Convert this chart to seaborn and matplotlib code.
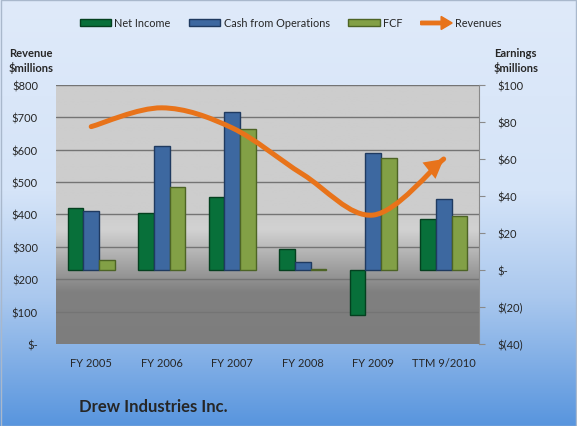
import numpy as np
import pandas as pd
import matplotlib
matplotlib.use("Agg")
import matplotlib.pyplot as plt
import matplotlib.patches as mpatches
from matplotlib.path import Path
from matplotlib.legend_handler import HandlerPatch
import seaborn as sns

sns.set_style("white")
plt.rcParams["font.family"] = ["Lato", "DejaVu Sans"]

# values
years = ["FY 2005", "FY 2006", "FY 2007", "FY 2008", "FY 2009", "TTM 9/2010"]
net_income = [33.5, 30.8, 39.6, 11.2, -24.3, 27.6]
cash_ops = [31.7, 66.9, 85.2, 4.2, 63.0, 38.5]
fcf = [5.6, 44.7, 76.4, 0.3, 60.3, 29.2]
revenues = [671, 729, 667, 524, 398, 571]

series = ["Net Income", "Cash from Operations", "FCF"]
bar_colors = ["#08703a", "#3d68a0", "#82a046"]
edge_colors = ["#04401f", "#1f3a60", "#4d6425"]
orange = "#e8731a"

df = pd.DataFrame({
    "year": years * 3,
    "series": [series[0]] * 6 + [series[1]] * 6 + [series[2]] * 6,
    "value": net_income + cash_ops + fcf,
})

fig = plt.figure(figsize=(5.77, 4.27), dpi=100)

# blue background gradient
bg = fig.add_axes([0, 0, 1, 1])
bg.set_zorder(-5)
stops = [0.0, 0.45, 0.7, 1.0]
cols = np.array([[223, 234, 250], [213, 228, 248], [170, 200, 238], [88, 149, 222]]) / 255
t = np.linspace(0, 1, 300)
grad = np.stack([np.interp(t, stops, cols[:, k]) for k in range(3)], axis=-1)[:, None, :]
bg.imshow(grad, aspect="auto", extent=[0, 1, 0, 1])
bg.axis("off")
fig.patches.append(mpatches.Rectangle((0.001, 0.001), 0.997, 0.997, transform=fig.transFigure,
                                      fill=False, edgecolor="#a9b8cc", lw=1))

ax = fig.add_axes([0.097, 0.192, 0.733, 0.607])
ax.set_xlim(-0.5, 5.5)
ax.set_ylim(0, 800)

# gray plot area gradient
pstops = [0.0, 0.5, 0.56, 0.8, 1.0]
pvals = np.array([205, 205, 210, 128, 125]) / 255
g = np.interp(t, pstops, pvals)
pgrad = np.stack([g, g, g], axis=-1)[:, None, :]
ax.imshow(pgrad, aspect="auto", extent=[-0.5, 5.5, 0, 800], zorder=0)

for yv in range(100, 900, 100):
    ax.axhline(yv, color="#747474", lw=1.0, zorder=1)

ax.set_yticks(range(0, 900, 100))
ax.set_yticklabels(["$-"] + ["$%d" % v for v in range(100, 900, 100)])
ax.tick_params(axis="y", length=0, pad=13, labelsize=8)
ax.tick_params(axis="x", length=0, pad=9, labelsize=8)
for s in ax.spines.values():
    s.set_visible(False)

ax2 = ax.twinx()
sns.barplot(data=df, x="year", y="value", hue="series", palette=bar_colors,
            width=0.67, ax=ax2, legend=False, saturation=1)
for i, cont in enumerate(ax2.containers):
    for bar in cont:
        bar.set_edgecolor(edge_colors[i])
        bar.set_linewidth(1)
        bar.set_zorder(3)
ax2.set_xlim(-0.5, 5.5)
ax2.set_ylim(-40, 100)
ax2.set_yticks(range(-40, 120, 20))
ax2.set_yticklabels(["$(40)", "$(20)", "$-", "$20", "$40", "$60", "$80", "$100"])
ax2.tick_params(axis="y", length=4, color="#8a8a8a", pad=9, labelsize=8)
ax2.set_xlabel("")
ax2.set_ylabel("")
ax.set_xticks(range(6))
ax.set_xticklabels(years)
for s in ["top", "left", "bottom"]:
    ax2.spines[s].set_visible(False)
ax2.spines["right"].set_color("#8a8a8a")

# smoothed revenue line (bezier through the revenue points)
pts = np.column_stack([np.arange(len(revenues)), revenues]).astype(float)
ext = np.vstack([pts[0], pts, pts[-1]])
verts = [tuple(pts[0])]
codes = [Path.MOVETO]
for i in range(len(pts) - 1):
    p0, p1, p2, p3 = ext[i], ext[i + 1], ext[i + 2], ext[i + 3]
    c1 = p1 + (p2 - p0) / 6
    c2 = p2 - (p3 - p1) / 6
    verts += [tuple(c1), tuple(c2), tuple(p2)]
    codes += [Path.CURVE4] * 3
ax2.add_patch(mpatches.PathPatch(Path(verts, codes), transform=ax.transData, fill=False,
                                 edgecolor=orange, lw=3.6, capstyle="round", zorder=5))
ax2.annotate("", xy=verts[-1], xytext=verts[-2], xycoords=ax.transData, textcoords=ax.transData,
             arrowprops=dict(arrowstyle="-|>,head_length=0.9,head_width=0.5", color=orange,
                             lw=0, shrinkA=0, shrinkB=0, mutation_scale=15), zorder=6)

# axis captions and title
fig.text(0.054, 0.857, "Revenue\n$millions", ha="center", va="center", fontsize=8,
         fontweight="bold", linespacing=1.35)
fig.text(0.894, 0.857, "Earnings\n$millions", ha="center", va="center", fontsize=8,
         fontweight="bold", linespacing=1.35)
fig.text(0.137, 0.046, "Drew Industries Inc.", ha="left", va="center", fontsize=12,
         fontweight="bold")

# legend
handles = [mpatches.Patch(facecolor=c, edgecolor=e) for c, e in zip(bar_colors, edge_colors)]
arrow_handle = mpatches.Patch(color=orange)


def make_arrow(legend, orig_handle, xdescent, ydescent, width, height, fontsize):
    return mpatches.FancyArrow(0, height / 2, width, 0, width=height * 0.5,
                               head_width=height * 1.9, head_length=height * 1.6,
                               length_includes_head=True, color=orange)


leg = fig.legend(handles + [arrow_handle], series + ["Revenues"], loc="center",
                 bbox_to_anchor=(0.504, 0.944), ncol=4, frameon=False, fontsize=7.8,
                 handlelength=2.9, handleheight=0.6, handletextpad=0.3, columnspacing=1.7,
                 handler_map={arrow_handle: HandlerPatch(patch_func=make_arrow)})

fig.savefig("out.png", dpi=100)
